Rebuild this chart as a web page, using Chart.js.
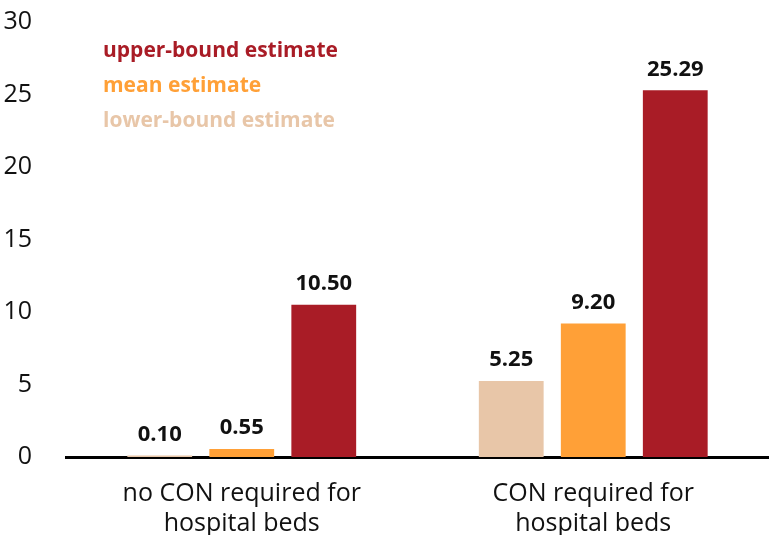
<!DOCTYPE html>
<html lang="en">
<head>
    <meta charset="UTF-8">
    <title>CON estimates</title>
    <script src="https://cdn.jsdelivr.net/npm/chart.js"></script>
    <style>
        body {
            margin: 0;
            padding: 0;
            background-color: #ffffff;
        }
        .chart-container {
            width: 769px;
            height: 535px;
        }
    </style>
</head>
<body>
    <div class="chart-container">
        <canvas id="conChart"></canvas>
    </div>

    <script>
        // Chart Data
        const categories = [["no CON required for", "hospital beds"], ["CON required for", "hospital beds"]];
        const lowerBound = [0.10, 5.25];
        const meanEstimate = [0.55, 9.20];
        const upperBound = [10.50, 25.29];
        const yTicks = [0, 5, 10, 15, 20, 25, 30];

        const fontFamily = "'Open Sans', Lato, sans-serif";

        // value labels above each bar
        const valueLabels = {
            id: 'valueLabels',
            afterDatasetsDraw(chart) {
                const ctx = chart.ctx;
                ctx.save();
                ctx.font = "bold 22px " + fontFamily;
                ctx.fillStyle = '#111';
                ctx.textAlign = 'center';
                ctx.textBaseline = 'bottom';
                chart.data.datasets.forEach((ds, i) => {
                    chart.getDatasetMeta(i).data.forEach((bar, j) => {
                        ctx.fillText(ds.data[j].toFixed(2), bar.x, bar.y - 10);
                    });
                });
                ctx.restore();
            }
        };

        // legend as coloured text only, top left
        const textLegend = {
            id: 'textLegend',
            afterDraw(chart) {
                const ctx = chart.ctx;
                ctx.save();
                ctx.font = "bold 21px " + fontFamily;
                ctx.textAlign = 'left';
                ctx.textBaseline = 'middle';
                const order = chart.data.datasets.slice().reverse();
                order.forEach((ds, i) => {
                    ctx.fillStyle = ds.backgroundColor;
                    ctx.fillText(ds.label, 103, 51 + i * 35);
                });
                ctx.restore();
            }
        };

        new Chart(document.getElementById('conChart'), {
            type: 'bar',
            data: {
                labels: categories,
                datasets: [{
                    label: 'lower-bound estimate',
                    data: lowerBound,
                    backgroundColor: '#E8C6A8'
                }, {
                    label: 'mean estimate',
                    data: meanEstimate,
                    backgroundColor: '#FFA037'
                }, {
                    label: 'upper-bound estimate',
                    data: upperBound,
                    backgroundColor: '#A91C26'
                }]
            },
            options: {
                responsive: true,
                maintainAspectRatio: false,
                animation: false,
                layout: { padding: { left: 0, top: 22, right: 0, bottom: -18 } },
                datasets: {
                    bar: { barPercentage: 0.79, categoryPercentage: 0.70 }
                },
                plugins: {
                    legend: { display: false },
                    tooltip: { enabled: false }
                },
                scales: {
                    x: {
                        grid: { display: false },
                        border: { color: '#000', width: 3 },
                        ticks: {
                            color: '#111',
                            padding: 14,
                            font: { family: fontFamily, size: 25, lineHeight: 1.2 },
                            maxRotation: 0
                        },
                        afterFit(axis) {
                            axis.paddingLeft = 0;
                            axis.paddingRight = 0;
                        }
                    },
                    y: {
                        min: 0,
                        max: 30,
                        afterBuildTicks(axis) {
                            axis.ticks = yTicks.map(v => ({ value: v }));
                        },
                        afterFit(axis) {
                            axis.width = 66;
                            axis.paddingTop = 0;
                            axis.paddingBottom = 0;
                        },
                        grid: { display: false },
                        border: { display: false },
                        ticks: {
                            color: '#111',
                            padding: 26,
                            font: { family: fontFamily, size: 25 }
                        }
                    }
                }
            },
            plugins: [valueLabels, textLegend]
        });
    </script>
</body>
</html>
